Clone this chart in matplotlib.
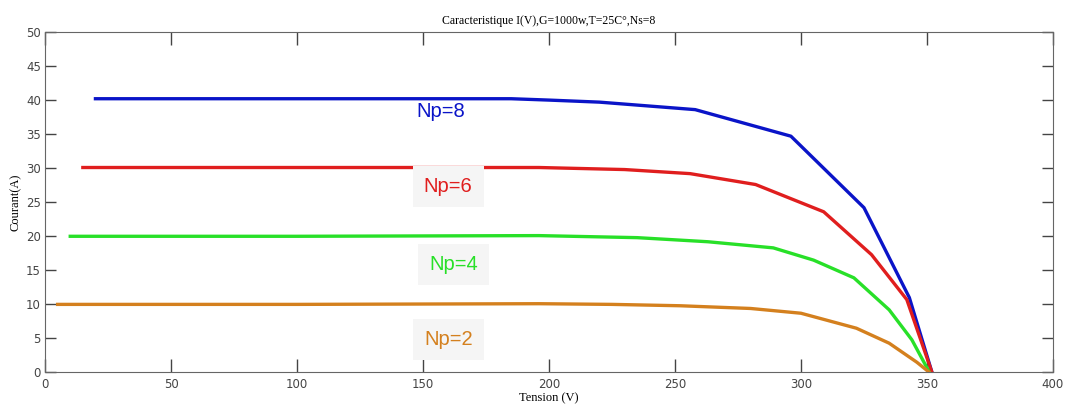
import matplotlib.pyplot as plt

# I(V) curves, one per number of parallel strings
v_np8 = [20, 100, 185, 200, 220, 258, 296, 325, 343, 352]
i_np8 = [40.2, 40.2, 40.2, 40.0, 39.7, 38.6, 34.7, 24.2, 11.0, 0.0]

v_np6 = [15, 100, 196, 230, 256, 282, 309, 328, 342, 352]
i_np6 = [30.1, 30.1, 30.1, 29.8, 29.2, 27.6, 23.6, 17.3, 10.7, 0.0]

v_np4 = [10, 100, 196, 235, 263, 289, 305, 321, 335, 344, 351]
i_np4 = [20.0, 20.0, 20.1, 19.8, 19.2, 18.3, 16.5, 13.9, 9.2, 4.8, 0.0]

v_np2 = [5, 100, 196, 225, 252, 280, 300, 322, 335, 346, 351]
i_np2 = [10.0, 10.0, 10.1, 10.0, 9.8, 9.4, 8.7, 6.5, 4.3, 1.5, 0.0]

labels = ["Np=8", "Np=6", "Np=4", "Np=2"]
label_v = [157, 160, 162, 160]
label_i = [38.3, 27.3, 15.8, 4.8]

colors = ["#0a14c8", "#e01e1e", "#28e028", "#d4801e"]

fig = plt.figure(figsize=(10.75, 4.07), dpi=100)
ax = fig.add_axes([0.0419, 0.0848, 0.9376, 0.8366])

curves = [(v_np8, i_np8), (v_np6, i_np6), (v_np4, i_np4), (v_np2, i_np2)]
for (v, i), c in zip(curves, colors):
    ax.plot(v, i, color=c, lw=2.4, solid_joinstyle="round")

for k, txt in enumerate(labels):
    box = None
    if k > 0:  # the lower labels sit on faint grey patches
        box = dict(facecolor="#f5f5f5", edgecolor="none", pad=8)
    ax.text(label_v[k], label_i[k], txt, color=colors[k], fontsize=14.5,
            family="Liberation Sans", ha="center", va="center", bbox=box)

ax.set_xlim(0, 400)
ax.set_ylim(0, 50)
ax.set_xticks(range(0, 401, 50))
ax.set_yticks(range(0, 51, 5))
ax.tick_params(direction="in", top=True, right=True, width=1,
               labelsize=8.5, labelcolor="#444444", color="#444444")
ax.tick_params(axis="x", length=9.5, pad=4)
ax.tick_params(axis="y", length=8, pad=3)
for s in ax.spines.values():
    s.set_color("#666666")

ax.set_title("Caracteristique I(V),G=1000w,T=25C°,Ns=8", fontsize=8.5,
             family="Liberation Serif", pad=6)
ax.set_xlabel("Tension (V)", fontsize=9, family="Liberation Serif", labelpad=1)
ax.set_ylabel("Courant(A)", fontsize=9, family="Liberation Serif", labelpad=3)

plt.savefig("out.png", dpi=100)
